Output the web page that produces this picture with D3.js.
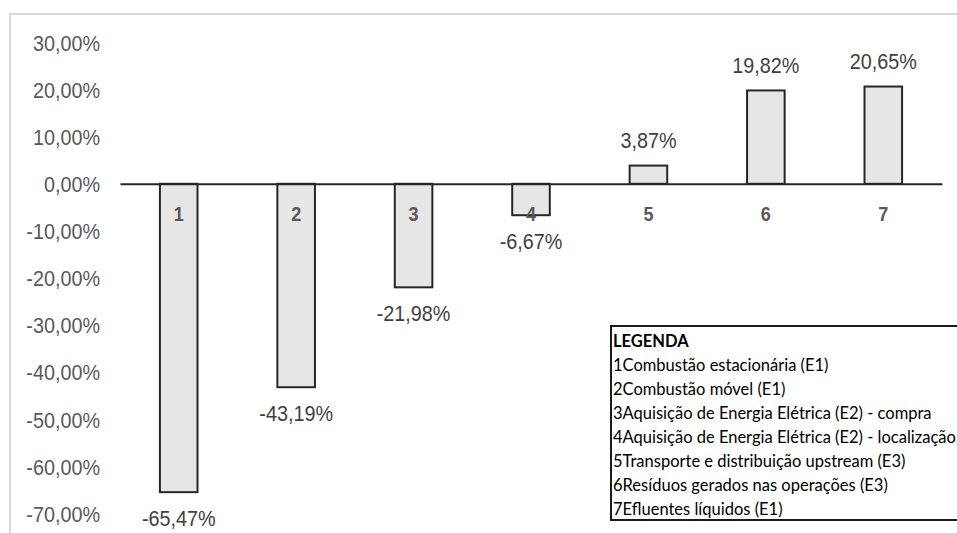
<!DOCTYPE html>
<html>
<head>
<meta charset="utf-8">
<script src="https://cdn.jsdelivr.net/npm/d3@7"></script>
<style>
  html, body { margin: 0; padding: 0; background: #fff; }
  svg { display: block; }
  .num { font-family: "Liberation Sans Narrow", "Arial Narrow", "Liberation Sans", Arial, sans-serif; }
  .leg { font-family: Lato, "Open Sans", sans-serif; }
</style>
</head>
<body>
<svg id="chart" width="957" height="533"></svg>
<script>
// Categories (numbered sources) and their percentage change
const categories = ["1", "2", "3", "4", "5", "6", "7"];
const values = [-65.47, -43.19, -21.98, -6.67, 3.87, 19.82, 20.65];
const yTicks = [30, 20, 10, 0, -10, -20, -30, -40, -50, -60, -70];
const legendTitle = "LEGENDA";
const legendItems = [
  "1Combustão estacionária (E1)",
  "2Combustão móvel (E1)",
  "3Aquisição de Energia Elétrica (E2) - compra",
  "4Aquisição de Energia Elétrica (E2) - localização",
  "5Transporte e distribuição upstream (E3)",
  "6Resíduos gerados nas operações (E3)",
  "7Efluentes líquidos (E1)"
];

const fmt = v => v.toFixed(2).replace(".", ",") + "%";
// condensed look for the numeric labels
const SQUEEZE = "scale(0.9,1)";

const svg = d3.select("#chart");

// Outer chart frame (top and left edges visible)
svg.append("path")
  .attr("d", "M10,533 V14 H957")
  .attr("fill", "none")
  .attr("stroke", "#d9d9d9")
  .attr("stroke-width", 2);

const x = d3.scaleBand()
  .domain(categories)
  .range([120, 942])
  .paddingInner(0.68)
  .paddingOuter(0.34);

const y = d3.scaleLinear()
  .domain([-70, 30])
  .range([513.5, 42.5]);

// Y axis: labels only, no line
const yAxis = d3.axisLeft(y)
  .tickValues(yTicks)
  .tickSize(0)
  .tickPadding(0)
  .tickFormat(fmt);

const gy = svg.append("g")
  .attr("transform", "translate(100,0)")
  .call(yAxis);
gy.select(".domain").remove();
gy.selectAll("text")
  .attr("class", "num")
  .attr("x", 0)
  .attr("font-size", 22)
  .attr("fill", "#595959")
  .attr("dy", "0.35em")
  .attr("transform", SQUEEZE);

// Bars
svg.append("g").selectAll("rect")
  .data(values)
  .join("rect")
  .attr("x", (d, i) => x(categories[i]))
  .attr("width", x.bandwidth())
  .attr("y", d => y(Math.max(0, d)))
  .attr("height", d => Math.abs(y(d) - y(0)))
  .attr("fill", "#e6e6e6")
  .attr("stroke", "#262626")
  .attr("stroke-width", 2);

// Zero line (category axis)
const xAxis = d3.axisBottom(x).tickSize(0).tickPadding(0);
const gx = svg.append("g")
  .attr("transform", `translate(0,${y(0)})`)
  .call(xAxis);
gx.select(".domain")
  .attr("stroke", "#262626")
  .attr("stroke-width", 2);
gx.selectAll("text")
  .attr("class", "num")
  .attr("y", 30)
  .attr("dy", "0.35em")
  .attr("font-size", 20)
  .attr("font-weight", "bold")
  .attr("fill", "#595959")
  .attr("transform", SQUEEZE);

// Value labels
svg.append("g").selectAll("g")
  .data(values)
  .join("g")
  .attr("transform", (d, i) =>
    `translate(${x(categories[i]) + x.bandwidth() / 2},${d < 0 ? y(d) + 26 : y(d) - 25})`)
  .append("text")
  .attr("class", "num")
  .attr("dy", "0.35em")
  .attr("text-anchor", "middle")
  .attr("font-size", 22)
  .attr("fill", "#404040")
  .attr("transform", SQUEEZE)
  .text(fmt);

// Legend box
const leg = svg.append("g").attr("class", "leg");
leg.append("rect")
  .attr("x", 611)
  .attr("y", 326)
  .attr("width", 360)
  .attr("height", 194)
  .attr("fill", "#fff")
  .attr("stroke", "#1a1a1a")
  .attr("stroke-width", 2);
leg.append("text")
  .attr("x", 613)
  .attr("y", 341)
  .attr("dy", "0.35em")
  .attr("font-size", 16.5)
  .attr("font-weight", "bold")
  .attr("fill", "#000")
  .text(legendTitle);
leg.selectAll("text.item")
  .data(legendItems)
  .join("text")
  .attr("class", "item")
  .attr("x", 613)
  .attr("y", (d, i) => 365 + i * 24)
  .attr("dy", "0.35em")
  .attr("font-size", 16.5)
  .attr("fill", "#000")
  .text(d => d);
</script>
</body>
</html>
